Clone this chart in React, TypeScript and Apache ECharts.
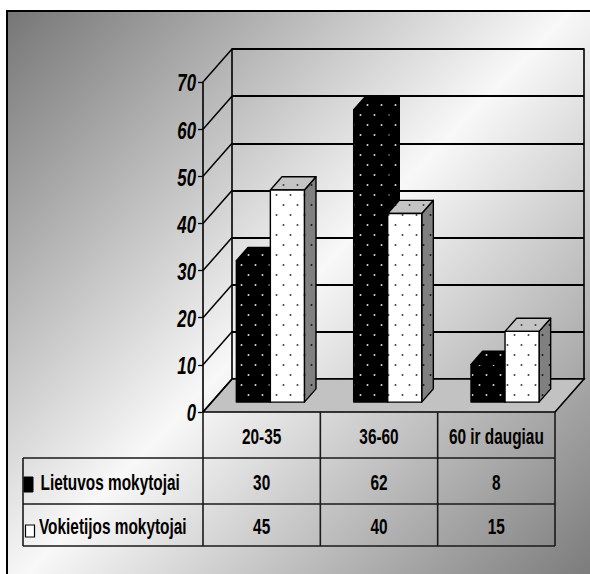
import React, { useEffect, useRef } from "react";
import * as echarts from "echarts";

// ---- data ----
const categories = ["20-35", "36-60", "60 ir daugiau"];
const seriesNames = ["Lietuvos mokytojai", "Vokietijos mokytojai"];
const lietuvos = [30, 62, 8];
const vokietijos = [45, 40, 15];
const valueTicks = [0, 10, 20, 30, 40, 50, 60, 70];
const AXIS_MIN = 0;
const AXIS_MAX = 70;
const AXIS_STEP = 10;

// ---- layout ----
const W = 590;
const H = 574;
const FRONT = { left: 203, top: 82, width: 352, height: 330 };
const DEPTH: [number, number] = [29, -33];
const BAR_FRONT = 0.3;
const BAR_DEPTH = 0.4;
const BAR_FRAC = 0.29;
const TABLE_LEFT = 23;
const ROW_Y = [412, 458, 504, 546];
const FONT = "'Liberation Sans', Arial, sans-serif";
const TEXT_SCALE = 0.7;
const LABEL_SCALE = 0.73;

// sparse staggered dot fill for the bar faces
function dotPattern(bg: string, dot: string) {
  const c = document.createElement("canvas");
  c.width = 14;
  c.height = 20;
  const ctx = c.getContext("2d")!;
  ctx.fillStyle = bg;
  ctx.fillRect(0, 0, 14, 20);
  ctx.fillStyle = dot;
  const pts = [
    [3.5, 5],
    [10.5, 15],
  ];
  for (const [x, y] of pts) {
    ctx.beginPath();
    ctx.arc(x, y, 1, 0, Math.PI * 2);
    ctx.fill();
  }
  return { image: c, repeat: "repeat", imageWidth: 14, imageHeight: 20 } as any;
}

export default function App() {
  const ref = useRef<HTMLDivElement>(null);

  useEffect(() => {
    if (!ref.current) return;
    const chart = echarts.init(ref.current, undefined, { renderer: "svg" });

    const blackFace = dotPattern("#000000", "#d8d8d8");
    const whiteFace = dotPattern("#ffffff", "#404040");
    const greySide = dotPattern("#808080", "#1a1a1a");
    const lightTop = dotPattern("#c4c4c4", "#404040");

    const barSeries = (name: string, values: number[], idx: number, face: any, top: any, side: any) => ({
      type: "custom",
      name,
      xAxisIndex: 0,
      yAxisIndex: 0,
      z: 5 + idx,
      data: values.map((v, i) => [i, v]),
      renderItem: (_params: any, api: any) => {
        const i = api.value(0);
        const v = api.value(1);
        const [cx, yTop] = api.coord([i, v]);
        const yBase = api.coord([i, 0])[1];
        const band = api.size([1, 0])[0];
        const w = band * BAR_FRAC;
        const sx = DEPTH[0] * BAR_FRONT;
        const sy = DEPTH[1] * BAR_FRONT;
        const bx = DEPTH[0] * BAR_DEPTH;
        const by = DEPTH[1] * BAR_DEPTH;
        const x0 = cx + sx + (idx === 0 ? -w : 0);
        const x1 = x0 + w;
        const yt = yTop + sy;
        const yb = yBase + sy;
        const edge = { stroke: "#000", lineWidth: 1.4, lineJoin: "round" };
        return {
          type: "group",
          children: [
            {
              type: "polygon",
              shape: { points: [[x1, yt], [x1 + bx, yt + by], [x1 + bx, yb + by], [x1, yb]] },
              style: { fill: side, ...edge },
            },
            {
              type: "polygon",
              shape: { points: [[x0, yt], [x0 + bx, yt + by], [x1 + bx, yt + by], [x1, yt]] },
              style: { fill: top, ...edge },
            },
            {
              type: "rect",
              shape: { x: x0, y: yt, width: w, height: yb - yt },
              style: { fill: face, ...edge },
            },
          ],
        };
      },
    });

    // data table under the plot, built from the data arrays
    const colX = [0, 1, 2, 3].map((k) => FRONT.left + (k * FRONT.width) / 3);
    const tableEls: any[] = [];
    const line = (x1: number, y1: number, x2: number, y2: number) =>
      tableEls.push({
        type: "line",
        z: 20,
        shape: { x1, y1, x2, y2 },
        style: { stroke: "#1a1a1a", lineWidth: 1.6 },
      });
    line(TABLE_LEFT, ROW_Y[1], colX[3], ROW_Y[1]);
    line(TABLE_LEFT, ROW_Y[2], colX[3], ROW_Y[2]);
    line(TABLE_LEFT, ROW_Y[3], colX[3], ROW_Y[3]);
    line(TABLE_LEFT, ROW_Y[1], TABLE_LEFT, ROW_Y[3]);
    colX.forEach((x) => line(x, ROW_Y[0], x, ROW_Y[3]));

    const cellText = (text: string, x: number, y: number, align: string) =>
      tableEls.push({
        type: "text",
        z: 21,
        x,
        y,
        scaleX: TEXT_SCALE,
        style: {
          text,
          x: 0,
          y: 0,
          fill: "#000",
          font: `bold 22px ${FONT}`,
          textAlign: align,
          textVerticalAlign: "middle",
        },
      });
    categories.forEach((c, k) =>
      cellText(c, (colX[k] + colX[k + 1]) / 2, (ROW_Y[0] + ROW_Y[1]) / 2 + 1.5, "center")
    );
    [lietuvos, vokietijos].forEach((vals, r) => {
      const cy = (ROW_Y[r + 1] + ROW_Y[r + 2]) / 2 + 1.5;
      vals.forEach((v, k) => cellText(String(v), (colX[k] + colX[k + 1]) / 2, cy, "center"));
      cellText(seriesNames[r], r === 0 ? 40.5 : 39, cy, "left");
    });
    // legend keys in the row headers
    tableEls.push({
      type: "rect",
      z: 21,
      shape: { x: 24, y: 477, width: 9, height: 15 },
      style: { fill: "#000", stroke: "#000", lineWidth: 1 },
    });
    tableEls.push({
      type: "rect",
      z: 21,
      shape: { x: 25.5, y: 525, width: 9, height: 12 },
      style: { fill: "#fff", stroke: "#000", lineWidth: 1.2 },
    });

    const option: any = {
      animation: false,
      graphic: [
        {
          type: "rect",
          z: -10,
          shape: { x: 7, y: 11, width: 600, height: 590 },
          style: {
            stroke: "#000",
            lineWidth: 2,
            fill: {
              type: "linear",
              global: true,
              x: 7,
              y: 11,
              x2: W,
              y2: H,
              colorStops: [
                { offset: 0, color: "#767676" },
                { offset: 0.5, color: "#f8f8f8" },
                { offset: 1, color: "#7c7c7c" },
              ],
            },
          },
        },
        ...tableEls,
      ],
      grid: [
        { left: FRONT.left, top: FRONT.top, width: FRONT.width, height: FRONT.height },
        {
          left: FRONT.left + DEPTH[0],
          top: FRONT.top + DEPTH[1],
          width: FRONT.width,
          height: FRONT.height,
          show: true,
          borderColor: "#000",
          borderWidth: 1.6,
          backgroundColor: "transparent",
        },
      ],
      xAxis: [
        { type: "category", gridIndex: 0, data: categories, show: false },
        { type: "category", gridIndex: 1, data: categories, show: false },
      ],
      yAxis: [
        {
          type: "value",
          gridIndex: 0,
          min: AXIS_MIN,
          max: AXIS_MAX,
          interval: AXIS_STEP,
          axisLine: { show: true, lineStyle: { color: "#000", width: 1.6 } },
          axisTick: { show: true, length: 5, lineStyle: { color: "#000", width: 1.3 } },
          splitLine: { show: false },
          axisLabel: { show: false },
        },
        {
          type: "value",
          gridIndex: 1,
          min: AXIS_MIN,
          max: AXIS_MAX,
          interval: AXIS_STEP,
          axisLine: { show: false },
          axisTick: { show: false },
          axisLabel: { show: false },
          splitLine: { show: true, lineStyle: { color: "#000", width: 2 } },
        },
      ],
      series: [
        {
          // floor
          type: "custom",
          xAxisIndex: 0,
          yAxisIndex: 0,
          z: 1,
          silent: true,
          data: [[0, AXIS_MIN]],
          renderItem: (params: any, api: any) => {
            const cs = params.coordSys;
            const y0 = api.coord([0, AXIS_MIN])[1];
            const xl = cs.x;
            const xr = cs.x + cs.width;
            return {
              type: "polygon",
              shape: {
                points: [
                  [xl, y0],
                  [xr, y0],
                  [xr + DEPTH[0], y0 + DEPTH[1]],
                  [xl + DEPTH[0], y0 + DEPTH[1]],
                ],
              },
              style: { fill: "#c2c2c2", stroke: "#000", lineWidth: 1.6 },
            };
          },
        },
        {
          // side wall lines joining the value axis to the back wall, with the tick labels
          type: "custom",
          xAxisIndex: 0,
          yAxisIndex: 0,
          z: 2,
          silent: true,
          data: valueTicks.map((v) => [0, v]),
          renderItem: (params: any, api: any) => {
            const cs = params.coordSys;
            const v = api.value(1);
            const y = api.coord([0, v])[1];
            return {
              type: "group",
              children: [
                {
                  type: "line",
                  shape: { x1: cs.x, y1: y, x2: cs.x + DEPTH[0], y2: y + DEPTH[1] },
                  style: { stroke: "#000", lineWidth: 1.5 },
                },
                {
                  type: "text",
                  x: cs.x - 7,
                  y: y + 1.5,
                  scaleX: LABEL_SCALE,
                  style: {
                    text: String(v),
                    fill: "#000",
                    font: `italic bold 23px ${FONT}`,
                    textAlign: "right",
                    textVerticalAlign: "middle",
                  },
                },
              ],
            };
          },
        },
        barSeries(seriesNames[0], lietuvos, 0, blackFace, blackFace, blackFace),
        barSeries(seriesNames[1], vokietijos, 1, whiteFace, lightTop, greySide),
      ],
    };

    chart.setOption(option);
    return () => chart.dispose();
  }, []);

  return (
    <div
      ref={ref}
      style={{ position: "absolute", left: 0, top: 0, width: W, height: H, background: "#fff" }}
    />
  );
}
